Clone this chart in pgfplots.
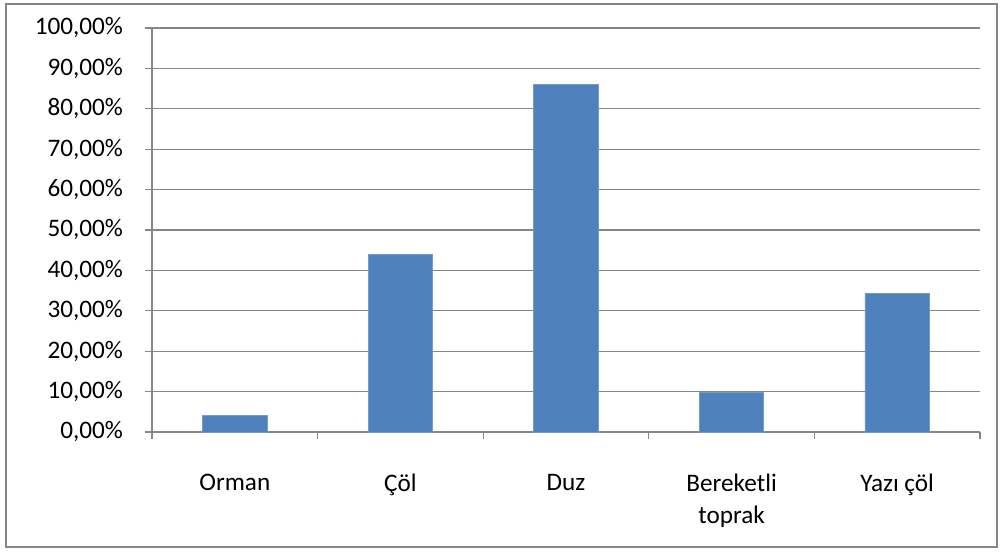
\documentclass[border=0pt]{standalone}
\usepackage{pgfplots}
\pgfplotsset{compat=1.18}
\usepackage{fontspec}
\setmainfont{Carlito}
\definecolor{barblue}{HTML}{4F81BD}
\definecolor{gridgray}{HTML}{868686}
\begin{document}
\begin{tikzpicture}
\useasboundingbox (0,0) rectangle (502pt,276.5pt);
\draw[gridgray, line width=0.7pt] (3pt,3pt) rectangle (498.5pt,274.5pt);
\begin{axis}[
  at={(76pt,60.5pt)}, anchor=south west,
  scale only axis, width=414pt, height=202pt,
  xmin=-0.5, xmax=4.5, ymin=0, ymax=100,
  axis x line*=bottom, axis y line*=left,
  axis line style={gridgray, line width=0.6pt},
  xtick={0,1,2,3,4},
  xticklabels={Orman, Çöl, Duz, {Bereketli\\toprak}, Yazı çöl},
  minor xtick={-0.5,0.5,1.5,2.5,3.5,4.5},
  major x tick style={draw=none},
  minor x tick style={gridgray, line width=0.6pt},
  tick align=outside,
  minor tick length=3.5pt,
  major tick length=3.5pt,
  ytick={0,10,...,100},
  yticklabels={{0,00\%},{10,00\%},{20,00\%},{30,00\%},{40,00\%},{50,00\%},{60,00\%},{70,00\%},{80,00\%},{90,00\%},{100,00\%}},
  y tick style={gridgray, line width=0.6pt},
  ymajorgrids, grid style={gridgray, line width=0.6pt},
  xticklabel style={align=center, font=\fontsize{12.6}{16}\selectfont, yshift=-14pt},
  yticklabel style={font=\fontsize{12.6}{15}\selectfont, xshift=-7.5pt},
  tick label style={text=black},
  clip=false,
]
\addplot[ybar, bar width=0.39, fill=barblue, draw=barblue!80!white] coordinates {
  (0,4.2) (1,44.0) (2,86.1) (3,9.8) (4,34.2)
};
\end{axis}
\end{tikzpicture}
\end{document}
